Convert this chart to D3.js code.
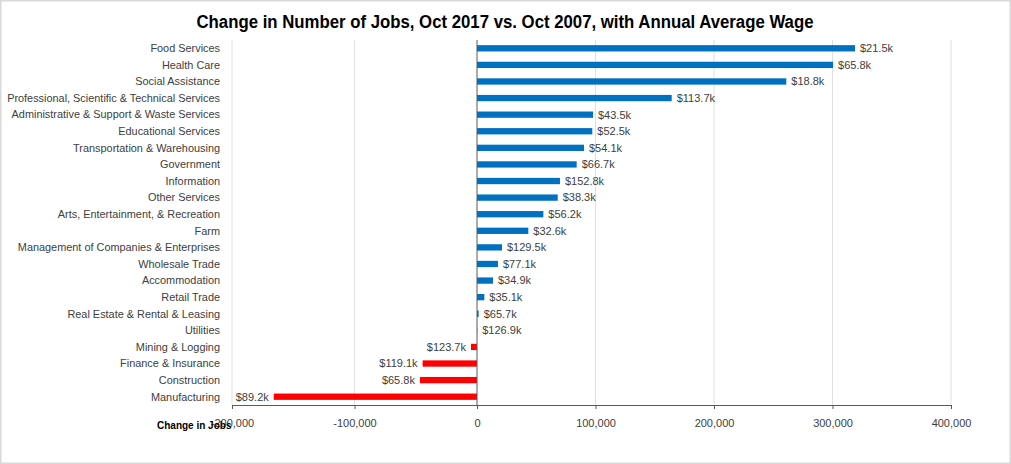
<!DOCTYPE html>
<html>
<head>
<meta charset="utf-8">
<script src="https://cdn.jsdelivr.net/npm/d3@7"></script>
<style>
  body { margin: 0; background: #fff; }
  svg { display: block; font-family: "Liberation Sans", Arial, sans-serif; }
  .cat text { fill: #404040; font-size: 10.9px; }
  .xaxis text { fill: #404040; font-size: 11px; }
  .val { fill: #404040; font-size: 11px; }
</style>
</head>
<body>
<svg width="1011" height="464"></svg>
<script>
const industries = [
  'Food Services', 'Health Care', 'Social Assistance',
  'Professional, Scientific & Technical Services',
  'Administrative & Support & Waste Services', 'Educational Services',
  'Transportation & Warehousing', 'Government', 'Information', 'Other Services',
  'Arts, Entertainment, & Recreation', 'Farm',
  'Management of Companies & Enterprises', 'Wholesale Trade', 'Accommodation',
  'Retail Trade', 'Real Estate & Rental & Leasing', 'Utilities',
  'Mining & Logging', 'Finance & Insurance', 'Construction', 'Manufacturing'
];
const jobChange = [
  319000, 300500, 261000, 164300, 97900, 97300, 90300, 84100, 70000, 68100,
  56000, 43300, 21100, 17700, 13500, 6200, 1400, 200,
  -4900, -44400, -46600, -165900
];
const avgWage = [
  '$21.5k', '$65.8k', '$18.8k', '$113.7k', '$43.5k', '$52.5k', '$54.1k',
  '$66.7k', '$152.8k', '$38.3k', '$56.2k', '$32.6k', '$129.5k', '$77.1k',
  '$34.9k', '$35.1k', '$65.7k', '$126.9k', '$123.7k', '$119.1k', '$65.8k', '$89.2k'
];
const xTicks = [-200000, -100000, 0, 100000, 200000, 300000, 400000];

const title = 'Change in Number of Jobs, Oct 2017 vs. Oct 2007, with Annual Average Wage';
const xLabel = 'Change in Jobs';

const data = industries.map((d, i) => ({ name: d, value: jobChange[i], wage: avgWage[i] }));

const svg = d3.select('svg');
const width = +svg.attr('width');
const height = +svg.attr('height');
const margin = { left: 232, right: 60, top: 40, bottom: 59 };
const innerHeight = height - margin.top - margin.bottom;

// frame
svg.append('rect')
    .attr('x', 0.5).attr('y', 0.5)
    .attr('width', width - 1).attr('height', height - 1)
    .attr('fill', '#fff').attr('stroke', '#d9d9d9').attr('stroke-width', 2);

svg.append('text')
    .attr('x', 505).attr('y', 28)
    .attr('text-anchor', 'middle')
    .attr('textLength', 617)
    .attr('lengthAdjust', 'spacingAndGlyphs')
    .style('font-size', '18px')
    .style('font-weight', 'bold')
    .attr('fill', '#000')
    .text(title);

const g = svg.append('g')
    .attr('transform', `translate(0,${margin.top})`);

const xScale = d3.scaleLinear()
    .domain([-200000, 0, 400000])
    .range([232, 477, 951]);

const yScale = d3.scaleBand()
    .domain(industries)
    .range([0, innerHeight])
    .paddingInner(0.62)
    .paddingOuter(0.31);

// gridlines
g.selectAll('.grid').data(xTicks.filter(d => d !== 0))
    .enter().append('line')
    .attr('class', 'grid')
    .attr('x1', d => xScale(d)).attr('x2', d => xScale(d))
    .attr('y1', 0).attr('y2', innerHeight)
    .attr('stroke', '#e0e0e0');

// bars
g.selectAll('.bar').data(data)
    .enter().append('rect')
    .attr('class', 'bar')
    .attr('x', d => xScale(Math.min(0, d.value)))
    .attr('y', d => yScale(d.name))
    .attr('width', d => Math.abs(xScale(d.value) - xScale(0)))
    .attr('height', yScale.bandwidth())
    .attr('fill', d => d.value < 0 ? '#ff0000' : '#0070c0');

// value labels
g.selectAll('.val').data(data)
    .enter().append('text')
    .attr('class', 'val')
    .attr('x', d => d.value < 0 ? xScale(d.value) - 5 : xScale(d.value) + 5)
    .attr('y', d => yScale(d.name) + yScale.bandwidth() / 2)
    .attr('dy', '0.35em')
    .attr('text-anchor', d => d.value < 0 ? 'end' : 'start')
    .text(d => d.wage);

// zero line
g.append('line')
    .attr('x1', xScale(0)).attr('x2', xScale(0))
    .attr('y1', 0).attr('y2', innerHeight)
    .attr('stroke', '#595959');

// category labels
g.append('g')
    .attr('class', 'cat')
    .selectAll('text').data(industries)
    .enter().append('text')
    .attr('x', 220)
    .attr('y', d => yScale(d) + yScale.bandwidth() / 2)
    .attr('dy', '0.35em')
    .attr('text-anchor', 'end')
    .text(d => d);

// x axis
const fmt = d3.format(',');
const xAxis = d3.axisBottom(xScale)
    .tickValues(xTicks)
    .tickSize(4)
    .tickPadding(10)
    .tickFormat(d => fmt(d).replace('\u2212', '-'));

const xAxisG = g.append('g')
    .attr('class', 'xaxis')
    .attr('transform', `translate(0,${innerHeight})`)
    .call(xAxis);
xAxisG.select('.domain').attr('stroke', '#595959');
xAxisG.selectAll('.tick line').attr('stroke', '#595959');

svg.append('text')
    .attr('x', 157).attr('y', 429)
    .style('font-size', '10px')
    .style('font-weight', 'bold')
    .attr('fill', '#000')
    .text(xLabel);
</script>
</body>
</html>
